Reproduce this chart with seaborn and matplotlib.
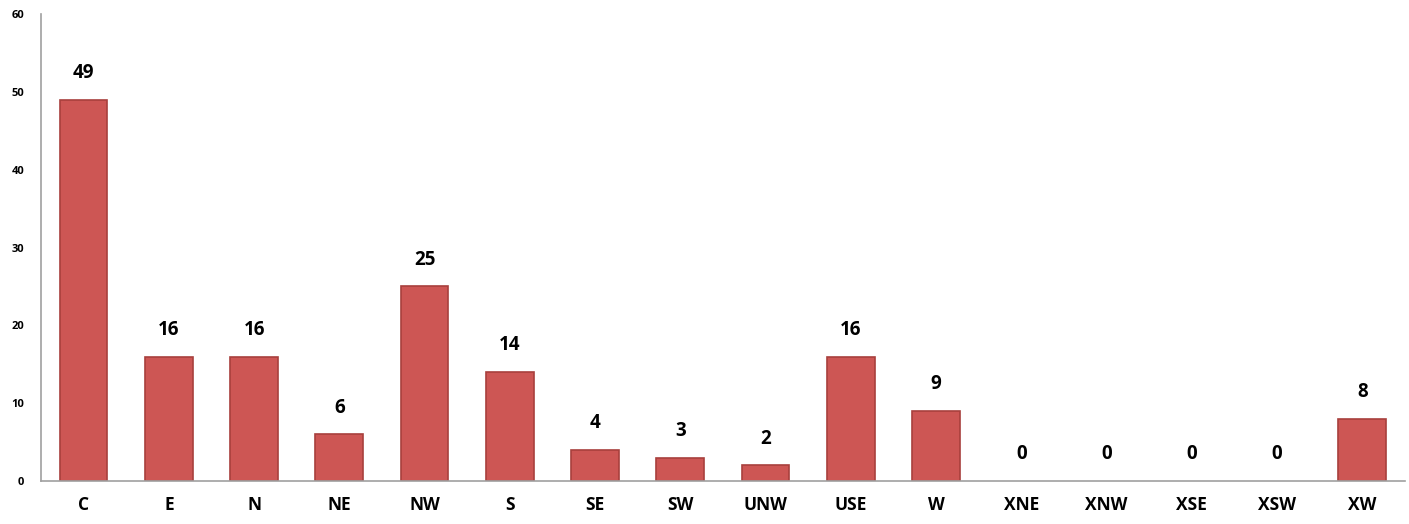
import matplotlib
matplotlib.use("Agg")
import matplotlib.pyplot as plt
import pandas as pd
import seaborn as sns

# 数据
regions = ["C", "E", "N", "NE", "NW", "S", "SE", "SW", "UNW", "USE",
           "W", "XNE", "XNW", "XSE", "XSW", "XW"]
counts = [49, 16, 16, 6, 25, 14, 4, 3, 2, 16, 9, 0, 0, 0, 0, 8]

df = pd.DataFrame({"region": regions, "count": counts})

sns.set_style("white")
plt.rcParams['font.family'] = ['Open Sans', 'DejaVu Sans']
plt.rcParams['text.color'] = 'black'
plt.rcParams['xtick.color'] = 'black'
plt.rcParams['ytick.color'] = 'black'

fig = plt.figure(figsize=(14.09, 5.24), dpi=100)
ax = fig.add_axes([0.0291, 0.082, 0.968, 0.891])

sns.barplot(data=df, x="region", y="count", color="#CD5654",
            saturation=1, width=0.56, edgecolor="#A8403D", linewidth=1.2, ax=ax)

# 0值的柱子不画边框
for patch, v in zip(ax.patches, counts):
    if v == 0:
        patch.set_linewidth(0)

# 数值标签
for i, v in enumerate(counts):
    ax.annotate(str(v), (i, v), xytext=(0, 12), textcoords="offset points",
                ha="center", va="bottom", fontsize=13.5, fontweight="bold",
                color="black")

ax.set_ylim(0, 60)
ax.set_yticks(range(0, 61, 10))
ax.set_xlim(-0.5, len(regions) - 0.5)
ax.set_xlabel("")
ax.set_ylabel("")
ax.tick_params(axis="y", labelsize=8, length=0, pad=12)
ax.tick_params(axis="x", labelsize=12.5, length=0, pad=11)
for lab in ax.get_xticklabels() + ax.get_yticklabels():
    lab.set_fontweight("bold")

sns.despine(ax=ax, top=True, right=True)
ax.spines["left"].set_color("#A0A0A0")
ax.spines["bottom"].set_color("#A0A0A0")
ax.spines["left"].set_linewidth(1.2)
ax.spines["bottom"].set_linewidth(1.2)

fig.savefig("out.png", dpi=100)
